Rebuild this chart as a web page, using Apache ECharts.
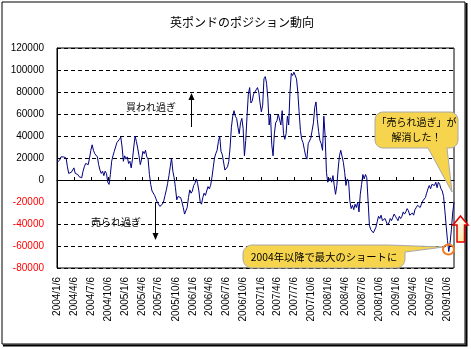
<!DOCTYPE html>
<html><head><meta charset="utf-8">
<script src="https://cdn.jsdelivr.net/npm/echarts@6/dist/echarts.min.js"></script>
<style>html,body{margin:0;padding:0;background:#fff}#c{width:471px;height:349px}</style>
</head><body><div id="c"></div>
<script>
const chartTitle = '英ポンドのポジション動向';
const firstWeek = '2004/1/6';   // weekly (Tuesday) observations start here
const lastAxisDate = '2009/11/10';
const tickLabels = ['2004/1/6','2004/4/6','2004/7/6','2004/10/6','2005/1/6','2005/4/6','2005/7/6','2005/10/6',
  '2006/1/6','2006/4/6','2006/7/6','2006/10/6','2007/1/6','2007/4/6','2007/7/6','2007/10/6',
  '2008/1/6','2008/4/6','2008/7/6','2008/10/6','2009/1/6','2009/4/6','2009/7/6','2009/10/6'];
const yMin = -80000, yMax = 120000, yStep = 20000;
const positions = [
 16000,17000,18000,21000,20000,21000,21000,20000,12000,6000,
 5000,7000,9000,11000,6000,7000,5000,3000,4000,2000,
 8000,12000,15000,16000,14000,20000,27000,32000,27000,24000,
 25000,21000,14000,9000,6000,8000,4000,8000,6000,-2000,
 -4000,5000,17000,22000,26000,30000,34000,33000,37000,39000,
 30000,17000,22000,19000,21000,15000,17000,11000,19000,30000,
 40000,35000,29000,22000,14000,19000,26000,24000,27000,21000,
 19000,5000,-4000,-10000,-11000,-14000,-17000,-20000,-21000,-24000,
 -25000,-22000,-19000,-14000,-9000,-3000,4000,12000,20000,8000,2000,
 -7000,-18000,-15000,-14000,-16000,-20000,-25000,-31000,-32000,-25000,
 -16000,-9000,-12000,-10000,-5000,-3000,1000,-3000,-10000,-20000,
 -22000,-16000,-12000,-14000,-10000,-6000,-8000,-5000,2000,11000,
 20000,24000,27000,35000,40000,26000,23000,24000,9000,10000,
 12000,17000,30000,48000,58000,63000,58000,56000,48000,42000,
 52000,56000,47000,22000,36000,58000,78000,84000,70000,72000,
 78000,80000,82000,84000,80000,70000,62000,68000,92000,94000,
 88000,74000,50000,60000,32000,22000,42000,52000,54000,60000,
 60000,50000,63000,42000,37000,42000,58000,50000,80000,97000,
 95000,98000,97000,92000,80000,62000,45000,37000,34000,28000,
 22000,19000,33000,33000,38000,45000,52000,66000,71000,55000,
 44000,36000,33000,27000,58000,40000,7000,-2000,-1000,2000,
 -2000,4000,-5000,-13000,-5000,10000,22000,27000,28000,16000,
 7000,-5000,1000,-1000,-19000,-26000,-23000,-27000,-22000,-25000,
 -20000,-29000,-13000,-4000,5000,1000,5000,2000,-19000,-41000,
 -45000,-46000,-48000,-48000,-43000,-38000,-33000,-35000,-32000,-37000,-36000,
 -35000,-36000,-41000,-39000,-35000,-37000,-34000,-31000,-33000,-35000,
 -37000,-33000,-35000,-33000,-29000,-31000,-29000,-26000,-28000,-32000,
 -31000,-30000,-32000,-27000,-25000,-23000,-22000,-25000,-22000,-19000,
 -20000,-16000,-12000,-8000,-5000,-8000,-4000,-5000,-5000,-2000,
 -7000,-2000,-4000,-8000,-10000,-15000,-28000,-42000,-55000,-65000,
 -57000,-45000,-30000,-20000
];
const overBought = '買われ過ぎ';
const overSold = '売られ過ぎ';
const callout1 = ['「売られ過ぎ」が', '解消した！'];
const callout2 = '2004年以降で最大のショートに';

const DAY = 86400000;
function parseDate(s){ const p = s.split('/').map(Number); return Date.UTC(p[0], p[1]-1, p[2]); }
const t0 = parseDate(firstWeek);
function dayOf(s){ return Math.round((parseDate(s) - t0) / DAY); }
// x positions are day offsets from the first week (weekly series)
const seriesData = positions.map((v, i) => [i * 7, v]);
const tickDays = tickLabels.map(dayOf);
const labelByDay = {}; tickLabels.forEach((s, i) => { labelByDay[tickDays[i]] = s; });
const xMaxDay = dayOf(lastAxisDate);

// rounded-corner helper for the callout outlines
function arc(cx, cy, r, a0, a1){
  const pts = []; const n = 6;
  for (let k = 0; k <= n; k++) { const a = (a0 + (a1 - a0) * k / n) * Math.PI / 180; pts.push([cx + r * Math.cos(a), cy + r * Math.sin(a)]); }
  return pts;
}
const bubble1 = [].concat(arc(383,120,8,180,270), arc(450,120,8,270,360), arc(450,140,8,0,90),
  [[447,148],[452,192],[428,148]], arc(383,140,8,90,180));
const bubble2 = [].concat(arc(252,254,9,180,270), [[388,245],[444,247],[405,252]],
  arc(396,259,9,0,90), arc(252,259,9,90,180));

const NUM = 'Liberation Sans, Arial, sans-serif';
const JP = 'Noto Sans CJK JP, sans-serif';
const chart = echarts.init(document.getElementById('c'), null, {renderer:'canvas'});
chart.setOption({
  animation: false,
  backgroundColor: '#fff',
  title: { text: chartTitle, left: 237, top: 11, textAlign: 'center',
    textStyle: { fontFamily: JP, fontSize: 12, fontWeight: 'normal', color: '#000' } },
  grid: { left: 57, right: 17, top: 48, bottom: 81, show: true, borderColor: '#000', borderWidth: 1, outerBoundsMode: 'none' },
  xAxis: [
    { type: 'value', min: 0, max: xMaxDay, position: 'bottom',
      axisLine: { show: false, onZero: false }, axisTick: { show: false }, splitLine: { show: false },
      axisLabel: { customValues: tickDays, rotate: 90, margin: 9, fontFamily: NUM, fontSize: 10, color: '#000',
        hideOverlap: false, showMinLabel: true, showMaxLabel: true, formatter: v => labelByDay[Math.round(v)] || '' } },
    { type: 'value', min: 0, max: xMaxDay, position: 'bottom',
      axisLine: { show: true, onZero: true, lineStyle: { color: '#000', width: 1 } },
      axisTick: { show: true, inside: true, length: 3, customValues: tickDays, lineStyle: { color: '#000' } },
      axisLabel: { show: false }, splitLine: { show: false } }
  ],
  yAxis: { type: 'value', min: yMin, max: yMax, interval: yStep,
    axisLine: { show: true, lineStyle: { color: '#000' } },
    axisTick: { show: true, inside: true, length: 3, lineStyle: { color: '#000' } },
    splitLine: { show: true, lineStyle: { color: '#000', type: [4, 3], width: 1 } },
    axisLabel: { margin: 13, fontFamily: NUM, fontSize: 10,
      color: v => (Number(v) < 0 ? '#FF0000' : '#000'),
      formatter: v => String(v) } },
  series: [{ type: 'line', xAxisIndex: 0, data: seriesData, showSymbol: false, symbol: 'none',
    lineStyle: { color: '#000080', width: 1 }, z: 3 }],
  graphic: [
    { type: 'rect', shape: { x: 2, y: 2, width: 463, height: 342 }, style: { fill: 'none', stroke: '#000', lineWidth: 1 }, silent: true },
    { type: 'polyline', shape: { points: [[466.5, 3], [466.5, 345.5], [3, 345.5]] }, style: { fill: 'none', stroke: '#000', lineWidth: 2 }, silent: true },
    { type: 'text', style: { text: overBought, x: 151, y: 107, align: 'center', verticalAlign: 'middle', font: '10px ' + JP, fill: '#000' } },
    { type: 'line', shape: { x1: 191.5, y1: 127, x2: 191.5, y2: 99 }, style: { stroke: '#000', lineWidth: 1 } },
    { type: 'polygon', shape: { points: [[191.5, 93], [188.5, 100], [194.5, 100]] }, style: { fill: '#000' } },
    { type: 'text', style: { text: overSold, x: 116, y: 222, align: 'center', verticalAlign: 'middle', font: '10px ' + JP, fill: '#000' } },
    { type: 'line', shape: { x1: 155.5, y1: 202, x2: 155.5, y2: 234 }, style: { stroke: '#000', lineWidth: 1 } },
    { type: 'polygon', shape: { points: [[155.5, 240], [152.5, 233], [158.5, 233]] }, style: { fill: '#000' } },
    { type: 'polygon', z: 10, shape: { points: bubble1 }, style: { fill: '#F6D44E', stroke: '#A8A8A8', lineWidth: 1 } },
    { type: 'text', z: 11, style: { text: callout1.join('\n'), x: 416.5, y: 130, align: 'center', verticalAlign: 'middle', lineHeight: 15, font: '10px ' + JP, fill: '#000' } },
    { type: 'polygon', z: 10, shape: { points: bubble2 }, style: { fill: '#F6D44E', stroke: '#A8A8A8', lineWidth: 1 } },
    { type: 'text', z: 11, style: { text: callout2, x: 324, y: 257, align: 'center', verticalAlign: 'middle', font: '10.3px ' + JP, fill: '#000' } },
    { type: 'ellipse', z: 12, shape: { cx: 448.5, cy: 249.5, rx: 5.5, ry: 5 }, style: { fill: 'none', stroke: '#F47B20', lineWidth: 2 } },
    { type: 'polygon', z: 12, shape: { points: [[460.5, 216], [468, 225], [464.5, 225], [464.5, 242], [457, 242], [457, 225], [453, 225]] },
      style: { fill: new echarts.graphic.LinearGradient(0, 0, 0, 1, [{offset: 0, color: '#FFFFFF'}, {offset: 1, color: '#FFE9A0'}]), stroke: '#E00000', lineWidth: 1.5 } }
  ]
});
</script></body></html>
